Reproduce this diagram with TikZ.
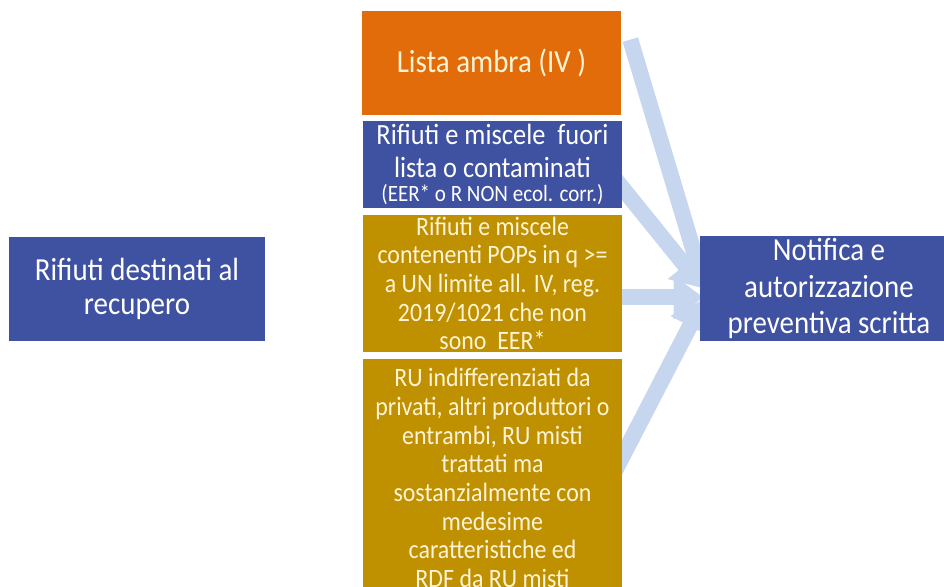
\documentclass[tikz,border=0pt]{standalone}
\usepackage{fontspec}
\setmainfont[FakeStretch=0.9]{Carlito}
\usetikzlibrary{arrows.meta, backgrounds, calc}
\definecolor{boxblue}{HTML}{3F51A1}
\definecolor{boxorange}{HTML}{E36C0A}
\definecolor{boxgold}{HTML}{BF9000}
\definecolor{flowblue}{HTML}{C6D6EE}
\definecolor{cream}{HTML}{FFF4D6}

\begin{document}
\begin{tikzpicture}[x=0.02cm, y=-0.02cm, >=Stealth]
  % Node style
  \tikzset{
    box/.style={fill=#1, text=white, inner sep=0pt, align=center, minimum width=5.18cm},
    bigtext/.style={font=\fontsize{18.3}{19.5}\selectfont},
    smalltext/.style={font=\fontsize{15.1}{16.3}\selectfont},
    flow/.style={draw=flowblue, line width=0.32cm, -{Triangle[width=0.84cm, length=0.6cm]}},
  }
  \useasboundingbox (0,0) rectangle (944,587);
  \clip (0,0) rectangle (944,587);
  % Nodes
  \node (recupero) [box=boxblue, bigtext, minimum width=5.12cm, minimum height=2.08cm] at (137,289)
    {Rifiuti destinati al\\recupero};
  \node (ambra) [box=boxorange, bigtext, text=cream, minimum height=2.08cm] at (491.5,63)
    {Lista ambra (IV )};
  \node (fuori) [box=boxblue, font=\fontsize{16.7}{18.7}\selectfont, minimum height=1.74cm] at (492.5,164.5)
    {Rifiuti e miscele\ \ fuori\\lista o contaminati\\[-5pt]{\fontsize{13.3}{13}\selectfont(EER* o R NON ecol. corr.)}};
  \node (pops) [box=boxgold, smalltext, text=cream, minimum height=2.74cm] at (492.5,283.5)
    {Rifiuti e miscele\\contenenti POPs in q >=\\a UN limite all. IV, reg.\\2019/1021 che non\\sono\ \ EER*};
  \node (ru) [box=boxgold, smalltext, text=cream, minimum height=4.76cm] at (492.5,478)
    {RU indifferenziati da\\privati, altri produttori o\\entrambi, RU misti\\trattati ma\\sostanzialmente con\\medesime\\caratteristiche ed\\RDF da RU misti};
  \node (notifica) [box=boxblue, font=\fontsize{18.3}{21}\selectfont, minimum width=5.16cm, minimum height=2.1cm] at (829,288.5)
    {Notifica e\\autorizzazione\\preventiva scritta};
  % Arrows
  \begin{scope}[on background layer]
    \draw[flow] ($(ambra.north east)+(9,29)$) -- ($(notifica.west)+(4,-4)$);
    \draw[flow] ($(fuori.east)+(-10,11)$) -- ($(notifica.west)+(4,0)$);
    \draw[flow] ($(pops.east)+(-10,14)$) -- ($(notifica.west)+(4,9)$);
    \draw[flow] ($(ru.east)+(-10,-2)$) -- ($(notifica.west)+(4,11)$);
  \end{scope}
\end{tikzpicture}
\end{document}
